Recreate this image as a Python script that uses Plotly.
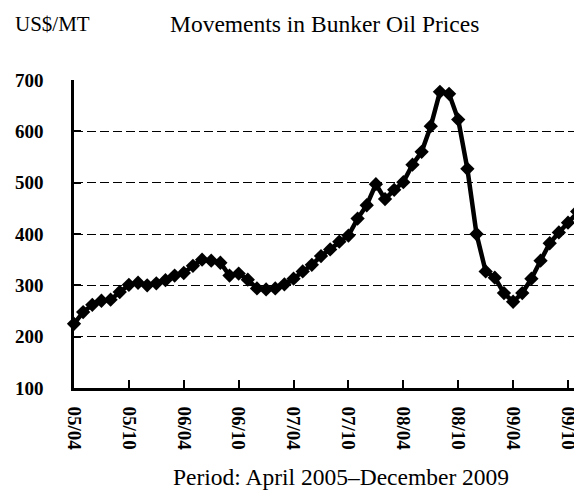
import plotly.graph_objects as go

months = ["2005-04","2005-05","2005-06","2005-07","2005-08","2005-09","2005-10","2005-11","2005-12",
          "2006-01","2006-02","2006-03","2006-04","2006-05","2006-06","2006-07","2006-08","2006-09",
          "2006-10","2006-11","2006-12","2007-01","2007-02","2007-03","2007-04","2007-05","2007-06",
          "2007-07","2007-08","2007-09","2007-10","2007-11","2007-12","2008-01","2008-02","2008-03",
          "2008-04","2008-05","2008-06","2008-07","2008-08","2008-09","2008-10","2008-11","2008-12",
          "2009-01","2009-02","2009-03","2009-04","2009-05","2009-06","2009-07","2009-08","2009-09",
          "2009-10","2009-11","2009-12"]
prices = [225, 248, 262, 270, 272, 287, 301, 305, 300, 304, 310, 319, 324,
          338, 350, 348, 344, 319, 323, 311, 294, 292, 294, 302, 313, 327, 340,
          357, 370, 385, 397, 430, 456, 497, 468, 486, 501, 535, 560, 610, 677,
          673, 623, 527, 400, 327, 315, 285, 268, 285, 313, 348, 382, 403, 422,
          444, 460]
tick_index = [0, 6, 12, 18, 24, 30, 36, 42, 48, 54]
tick_text = ["05/04", "05/10", "06/04", "06/10", "07/04", "07/10", "08/04", "08/10", "09/04", "09/10"]
y_ticks = [100, 200, 300, 400, 500, 600, 700]

x_idx = list(range(len(months)))
FONT = "Liberation Serif"

# page body has an 8px margin; the figure is sized/offset so the plot lands where the reference has it
OFF = 8
L, T = 74 - OFF, 80 - OFF
W, H = 582 - OFF, 491 - OFF
PW, PH = 508, 308

def px(xp):
    return (xp - OFF - L) / PW

def py(yp):
    return 1 - (yp - OFF - T) / PH

fig = go.Figure()
fig.add_trace(go.Scatter(
    x=x_idx, y=prices, mode="lines+markers",
    line=dict(color="black", width=4.5),
    marker=dict(symbol="diamond", size=11, color="black"),
    cliponaxis=False, hoverinfo="skip",
))

fig.update_layout(
    width=W, height=H,
    margin=dict(l=L, r=W - L - PW, t=T, b=H - T - PH, autoexpand=False),
    paper_bgcolor="white", plot_bgcolor="white",
    showlegend=False,
    font=dict(family=FONT, color="black"),
    xaxis=dict(
        range=[0, 55.53], tickmode="array", tickvals=tick_index, ticktext=tick_text,
        tickangle=90, ticks="inside", ticklen=8, tickwidth=2, tickcolor="black",
        showline=True, linecolor="black", linewidth=2.5,
        showgrid=False, zeroline=False,
        tickfont=dict(family=FONT, size=19, color="black", weight="bold"),
        ticklabelstandoff=12, automargin=False,
    ),
    yaxis=dict(
        range=[100, 700], tickmode="array", tickvals=y_ticks,
        ticks="inside", ticklen=7, tickwidth=2, tickcolor="black",
        showline=True, linecolor="black", linewidth=2.5,
        showgrid=True, gridcolor="black", gridwidth=1, griddash="9px,4px",
        zeroline=False,
        tickfont=dict(family=FONT, size=19, color="black", weight="bold"),
        ticklabelstandoff=24, automargin=False,
    ),
    annotations=[
        dict(text="US$/MT", xref="paper", yref="paper", x=px(13), y=py(24),
             xanchor="left", yanchor="middle", showarrow=False,
             font=dict(family=FONT, size=21, color="black")),
        dict(text="Movements in Bunker Oil Prices", xref="paper", yref="paper",
             x=px(324), y=py(24),
             xanchor="center", yanchor="middle", showarrow=False,
             font=dict(family=FONT, size=23.5, color="black")),
        dict(text="Period: April 2005\u2013December 2009", xref="paper", yref="paper",
             x=px(341), y=py(477),
             xanchor="center", yanchor="middle", showarrow=False,
             font=dict(family=FONT, size=23.5, color="black")),
    ],
)

fig.write_html("out.html")
